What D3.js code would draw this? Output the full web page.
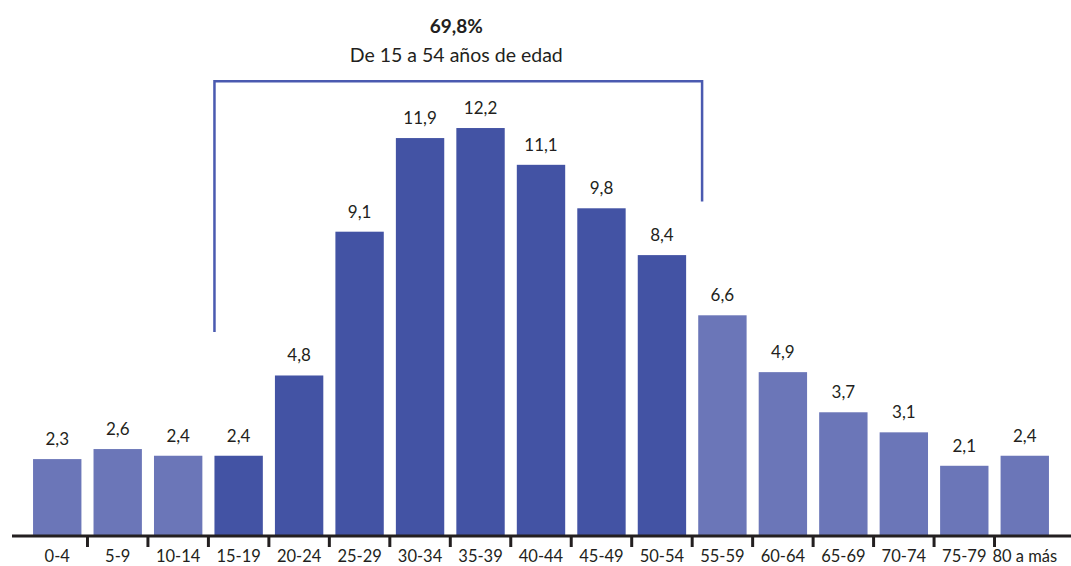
<!DOCTYPE html>
<html>
<head>
<meta charset="utf-8">
<script src="https://cdn.jsdelivr.net/npm/d3@7"></script>
<style>
  html, body { margin: 0; padding: 0; background: #ffffff; }
  svg { display: block; }
  text { font-family: Lato, "Open Sans", sans-serif; fill: #231f20; }
</style>
</head>
<body>
<svg id="chart" width="1071" height="566"></svg>
<script>
// ---- data ----
const categories = ["0-4","5-9","10-14","15-19","20-24","25-29","30-34","35-39","40-44","45-49","50-54","55-59","60-64","65-69","70-74","75-79","80 a más"];
const values = [2.3, 2.6, 2.4, 2.4, 4.8, 9.1, 11.9, 12.2, 11.1, 9.8, 8.4, 6.6, 4.9, 3.7, 3.1, 2.1, 2.4];
const highlighted = ["15-19","20-24","25-29","30-34","35-39","40-44","45-49","50-54"];
const totalLabel = "69,8%";
const rangeLabel = "De 15 a 54 años de edad";
const bracketStart = "15-19";
const bracketEnd = "55-59";

// ---- setup ----
const W = 1071, H = 566;
const svg = d3.select("#chart");
const baseY = 536;
const locale = d3.formatLocale({decimal: ",", thousands: ".", grouping: [3], currency: ["", ""]});
const fmt = locale.format(".1f");

const x = d3.scaleBand().domain(categories).range([27, 1055]).paddingInner(0.2).paddingOuter(0.1);
const y = d3.scaleLinear().domain([0, 14]).range([baseY, baseY - 14 * 33.44]);

const dark = "#4353a4", light = "#6b76b8", bracketColor = "#4a5ab0";
const data = categories.map((c, i) => ({c, v: values[i]}));

// bars
svg.append("g").selectAll("rect").data(data).join("rect")
  .attr("x", d => x(d.c))
  .attr("y", d => y(d.v))
  .attr("width", x.bandwidth())
  .attr("height", d => baseY - y(d.v))
  .attr("fill", d => highlighted.includes(d.c) ? dark : light);

// value labels
svg.append("g").selectAll("text").data(data).join("text")
  .attr("x", d => x(d.c) + x.bandwidth() / 2)
  .attr("y", d => y(d.v) - 14)
  .attr("text-anchor", "middle")
  .style("font-size", "17px")
  .text(d => fmt(d.v));

// axis line
svg.append("line")
  .attr("x1", 12).attr("x2", W)
  .attr("y1", baseY).attr("y2", baseY)
  .attr("stroke", "#231f20").attr("stroke-width", 3);

// ticks at category boundaries
const step = x.step();
const boundaries = categories.slice(1).map(c => x(c) - step * x.paddingInner() / 2);
svg.append("g").selectAll("line").data(boundaries).join("line")
  .attr("x1", d => d).attr("x2", d => d)
  .attr("y1", baseY).attr("y2", baseY + 11)
  .attr("stroke", "#231f20").attr("stroke-width", 3);

// category labels
svg.append("g").selectAll("text").data(categories).join("text")
  .attr("x", c => x(c) + x.bandwidth() / 2)
  .attr("y", 562)
  .attr("text-anchor", "middle")
  .style("font-size", "16.5px")
  .text(c => c);

// bracket
const bx0 = x(bracketStart);
const bx1 = x(bracketEnd) + x.bandwidth() * 0.08;
const bracket = d3.path();
bracket.moveTo(bx0, y(6.1));
bracket.lineTo(bx0, y(13.6));
bracket.lineTo(bx1, y(13.6));
bracket.lineTo(bx1, y(10.0));
svg.append("path")
  .attr("d", bracket.toString())
  .attr("fill", "none")
  .attr("stroke", bracketColor)
  .attr("stroke-width", 2.5);

// titles
const cx = (bx0 + bx1) / 2 - 2;
svg.append("text")
  .attr("x", cx).attr("y", 33)
  .attr("text-anchor", "middle")
  .style("font-size", "19px").style("font-weight", "bold")
  .text(totalLabel);
svg.append("text")
  .attr("x", cx).attr("y", 62)
  .attr("text-anchor", "middle")
  .style("font-size", "19.5px")
  .text(rangeLabel);
</script>
</body>
</html>
